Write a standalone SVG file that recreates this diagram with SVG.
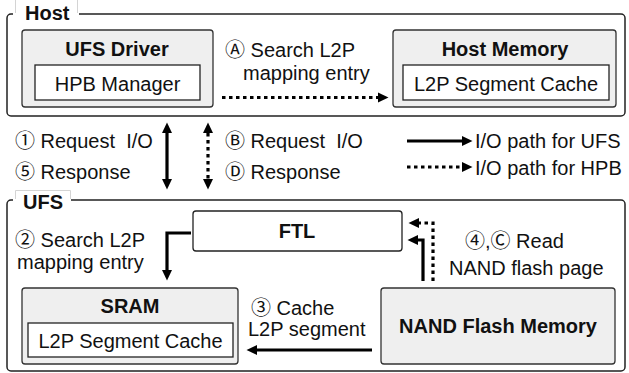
<svg xmlns="http://www.w3.org/2000/svg" width="629" height="373" viewBox="0 0 629 373">
  <defs>
    <style>
      text { font-family: "Liberation Sans", "DejaVu Sans", Arial, sans-serif; font-size: 20px; fill: #111; white-space: pre; }
      .b { font-weight: bold; }
      .mid { text-anchor: middle; }
      .c { font-family: "Noto Sans CJK JP", "DejaVu Sans", sans-serif; font-size: 20px; }
      .outer { fill: #fff; stroke: #222; stroke-width: 1.5; }
      .block { fill: #efefef; stroke: #333; stroke-width: 1.3; }
      .inner { fill: #fff; stroke: #222; stroke-width: 1.3; }
      .tab { fill: none; stroke: #d4d4d4; stroke-width: 1; }
      .solid { fill: none; stroke: #000; stroke-width: 3.2; }
      .dot { fill: none; stroke: #000; stroke-width: 3.2; stroke-dasharray: 3.5 3.5; }
      .ah { marker-end: url(#head); }
      .both { marker-start: url(#head); marker-end: url(#head); }
    </style>
    <marker id="head" markerUnits="userSpaceOnUse" markerWidth="11" markerHeight="11" refX="0" refY="5" orient="auto-start-reverse" overflow="visible">
      <path d="M0,0 L10.5,5 L0,10 Z" fill="#000"/>
    </marker>
  </defs>

  <!-- Host container -->
  <g id="host">
    <rect class="outer" x="7" y="14" width="618" height="102" rx="4"/>
    <rect x="13" y="-2" width="66" height="21" fill="#fff"/>
    <path class="tab" d="M15.5 13 V-1 M77.5 -1 V13"/>
    <text class="b" x="25" y="20">Host</text>
  </g>

  <g id="ufs-driver">
    <rect class="block" x="22" y="30" width="191" height="77" rx="3"/>
    <text class="b mid" x="117" y="56">UFS Driver</text>
    <rect class="inner" x="35" y="65" width="165" height="35"/>
    <text class="mid" x="117.5" y="91">HPB Manager</text>
  </g>

  <g id="host-memory">
    <rect class="block" x="393" y="30" width="223" height="77" rx="3"/>
    <text class="b mid" x="505" y="56">Host Memory</text>
    <rect class="inner" x="403" y="65" width="206" height="35"/>
    <text class="mid" x="506" y="91">L2P Segment Cache</text>
  </g>

  <!-- UFS container -->
  <g id="ufs">
    <rect class="outer" x="7" y="200" width="618" height="171" rx="4"/>
    <rect x="13" y="190" width="58" height="18" fill="#fff"/>
    <path class="tab" d="M15.5 199 V190.5 H70.5 V199"/>
    <text class="b" x="23" y="209">UFS</text>
  </g>

  <g id="ftl">
    <rect class="inner" x="193" y="211" width="209" height="40" rx="3"/>
    <text class="b mid" x="297" y="238">FTL</text>
  </g>

  <g id="sram">
    <rect class="block" x="22" y="288" width="216" height="76" rx="3"/>
    <text class="b mid" x="130" y="313">SRAM</text>
    <rect class="inner" x="28" y="323" width="205" height="34"/>
    <text class="mid" x="130.5" y="348">L2P Segment Cache</text>
  </g>

  <g id="nand">
    <rect class="block" x="381" y="288" width="234" height="76" rx="3"/>
    <text class="b mid" x="498" y="333">NAND Flash Memory</text>
  </g>

  <!-- Connectors -->
  <g id="connectors">
    <line class="dot ah" x1="222" y1="97.5" x2="378" y2="97.5"/>
    <line class="solid both" x1="167" y1="133" x2="167" y2="179"/>
    <line class="dot both" x1="208" y1="133" x2="208" y2="179"/>
    <line class="solid ah" x1="407" y1="141" x2="462" y2="141"/>
    <line class="dot ah" x1="407" y1="167" x2="462" y2="167"/>
    <path class="solid ah" d="M191 233 H167 V270"/>
    <line class="solid ah" x1="372" y1="350" x2="257" y2="350"/>
    <path class="solid ah" d="M423 281 V240 H418"/>
    <path class="dot ah" d="M433 281 V223 H419"/>
  </g>

  <!-- Connector labels; circled step markers use a full-width CJK face -->
  <g id="labels">
    <text x="225" y="57"><tspan class="c">Ⓐ</tspan> Search L2P</text>
    <text x="243" y="80">mapping entry</text>
    <text x="15" y="148"><tspan class="c">①</tspan> Request  I/O</text>
    <text x="15" y="179"><tspan class="c">⑤</tspan> Response</text>
    <text x="225" y="148"><tspan class="c">Ⓑ</tspan> Request  I/O</text>
    <text x="225" y="179"><tspan class="c">Ⓓ</tspan> Response</text>
    <text x="475" y="148">I/O path for UFS</text>
    <text x="475" y="175">I/O path for HPB</text>
    <text x="15" y="247"><tspan class="c">②</tspan> Search L2P</text>
    <text x="17" y="269">mapping entry</text>
    <text x="251" y="315"><tspan class="c">③</tspan> Cache</text>
    <text x="248" y="336">L2P segment</text>
    <text x="465" y="248"><tspan class="c">④</tspan>,<tspan class="c">Ⓒ</tspan> Read</text>
    <text x="449" y="275">NAND flash page</text>
  </g>
</svg>
